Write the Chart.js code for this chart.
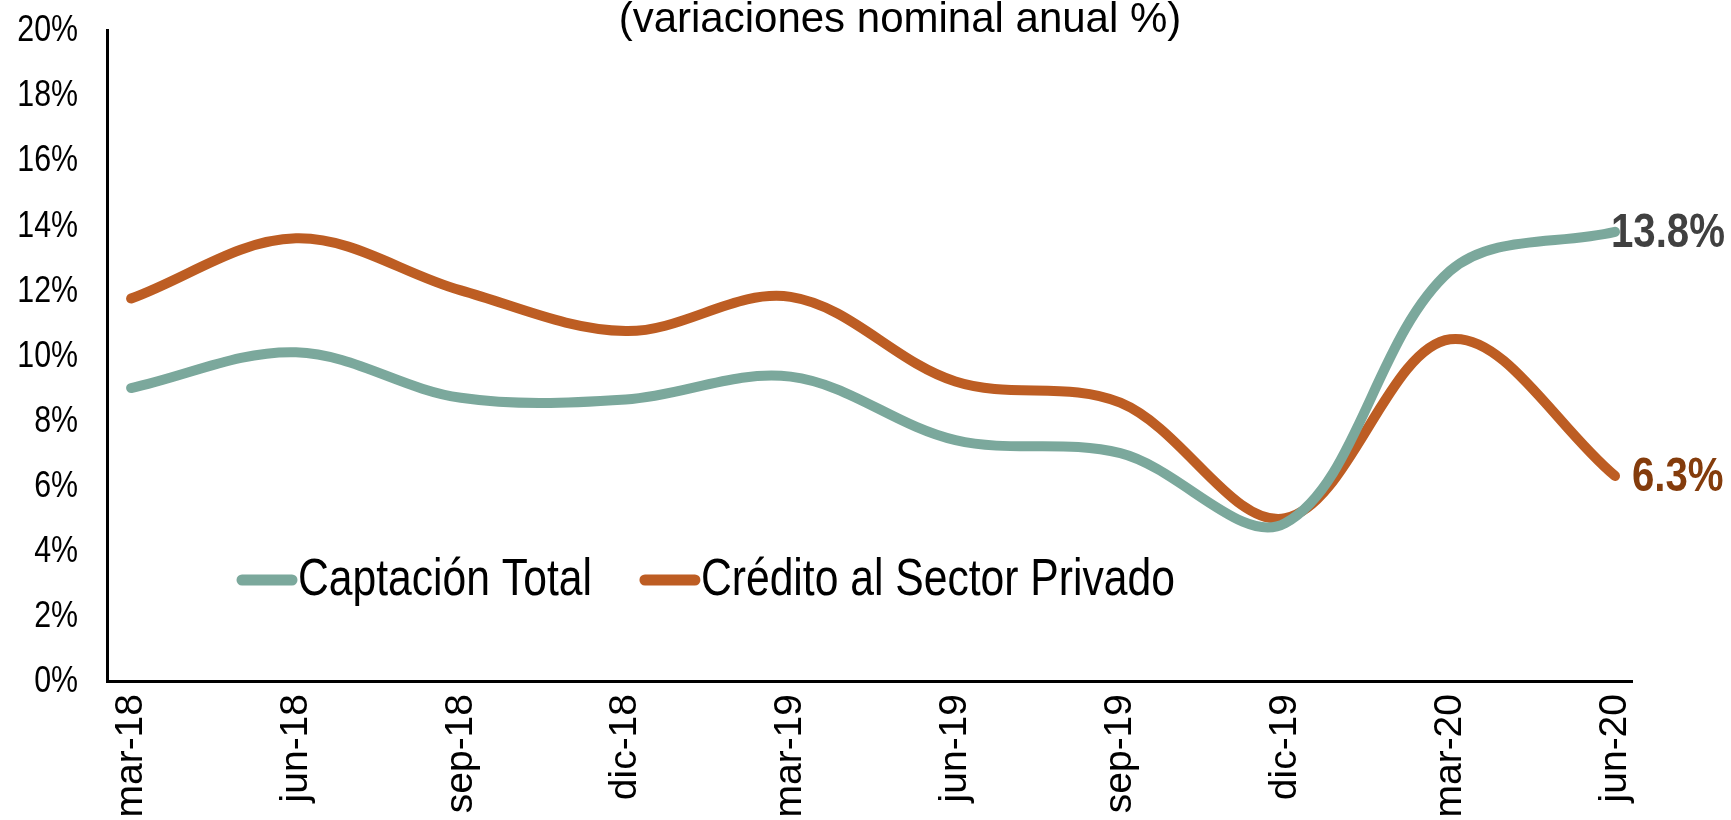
<!DOCTYPE html>
<html>
<head>
<meta charset="utf-8">
<script src="https://cdn.jsdelivr.net/npm/chart.js@4/dist/chart.umd.min.js"></script>
<style>
  body { margin: 0; background: #fff; }
  canvas { display: block; }
</style>
</head>
<body>
<canvas id="myChart" width="1731" height="820"></canvas>
<script>
const quarters = ['mar-18', 'jun-18', 'sep-18', 'dic-18', 'mar-19', 'jun-19', 'sep-19', 'dic-19', 'mar-20', 'jun-20'];
const captacion = [9.0, 10.1, 8.7, 8.65, 9.35, 7.4, 7.0, 4.85, 12.6, 13.8];
const credito = [11.75, 13.6, 12.0, 10.75, 11.8, 9.2, 8.55, 5.0, 10.5, 6.3];
const yTicks = [0, 2, 4, 6, 8, 10, 12, 14, 16, 18, 20];

const FONT = '"Liberation Sans", Arial, sans-serif';
const SQUEEZE = 0.82; // no narrow font installed, so squeeze the regular one

function narrowText(c, text, x, y, align) {
  c.save();
  c.translate(x, y);
  c.scale(SQUEEZE, 1);
  c.textAlign = align;
  c.fillText(text, 0, 0);
  c.restore();
}

// title, y labels, legend and end labels drawn on the canvas
const extras = {
  id: 'extras',
  afterDatasetsDraw(chart) {
    const c = chart.ctx;
    c.save();
    c.textBaseline = 'middle';
    c.fillStyle = '#000';
    c.font = '42px ' + FONT;
    c.textAlign = 'center';
    c.fillText('(variaciones nominal anual %)', 900, 20);

    // y tick labels
    const ys = chart.scales.y;
    c.font = '37px ' + FONT;
    yTicks.forEach(v => narrowText(c, v + '%', ys.left + 78, ys.getPixelForValue(v) + 1, 'right'));

    // legend
    let x = 237;
    const y = 580;
    chart.data.datasets.forEach(ds => {
      c.strokeStyle = ds.borderColor;
      c.lineWidth = 11;
      c.lineCap = 'round';
      c.beginPath();
      c.moveTo(x + 5, y);
      c.lineTo(x + 55, y);
      c.stroke();
      c.fillStyle = '#000';
      c.font = '52px ' + FONT;
      narrowText(c, ds.label, x + 61, y + 1, 'left');
      x += 61 + c.measureText(ds.label).width * SQUEEZE + 48;
    });

    // end labels
    const last = quarters.length - 1;
    const p0 = chart.getDatasetMeta(0).data[last];
    const p1 = chart.getDatasetMeta(1).data[last];
    c.font = 'bold 49px ' + FONT;
    c.fillStyle = '#404040';
    narrowText(c, captacion[last].toFixed(1) + '%', p0.x - 4, p0.y + 2, 'left');
    c.fillStyle = '#843C0C';
    narrowText(c, credito[last].toFixed(1) + '%', p1.x + 17, p1.y + 2, 'left');
    c.restore();
  }
};

const ctx = document.getElementById('myChart').getContext('2d');
const myChart = new Chart(ctx, {
  type: 'line',
  data: {
    datasets: [{
      label: 'Captación Total',
      data: captacion.map((v, i) => ({ x: i, y: v })),
      borderColor: '#7BA89C',
      borderWidth: 10,
      borderCapStyle: 'round',
      pointRadius: 0,
      tension: 0.35
    }, {
      label: 'Crédito al Sector Privado',
      data: credito.map((v, i) => ({ x: i, y: v })),
      borderColor: '#BD5D23',
      borderWidth: 10,
      borderCapStyle: 'round',
      pointRadius: 0,
      tension: 0.35
    }]
  },
  options: {
    responsive: false,
    animation: false,
    layout: { padding: { top: 30, right: 99, left: 0, bottom: 0 } },
    plugins: {
      legend: { display: false },
      tooltip: { enabled: false }
    },
    scales: {
      x: {
        type: 'linear',
        min: -0.146,
        max: 9.103,
        afterBuildTicks: s => { s.ticks = quarters.map((q, i) => ({ value: i })); },
        afterFit: s => { s.height = 139; s.paddingLeft = 0; s.paddingRight = 0; },
        grid: { display: false },
        border: { display: true, color: '#000', width: 3 },
        ticks: {
          color: '#000',
          font: { family: FONT, size: 39 },
          minRotation: 90,
          maxRotation: 90,
          padding: 5,
          callback: v => quarters[v]
        }
      },
      y: {
        min: 0,
        max: 20,
        afterBuildTicks: s => { s.ticks = yTicks.map(v => ({ value: v })); },
        afterFit: s => { s.width = 107; s.paddingTop = 0; s.paddingBottom = 0; },
        grid: { display: false },
        border: { display: true, color: '#000', width: 3 },
        ticks: { display: false }
      }
    }
  },
  plugins: [extras]
});
</script>
</body>
</html>
